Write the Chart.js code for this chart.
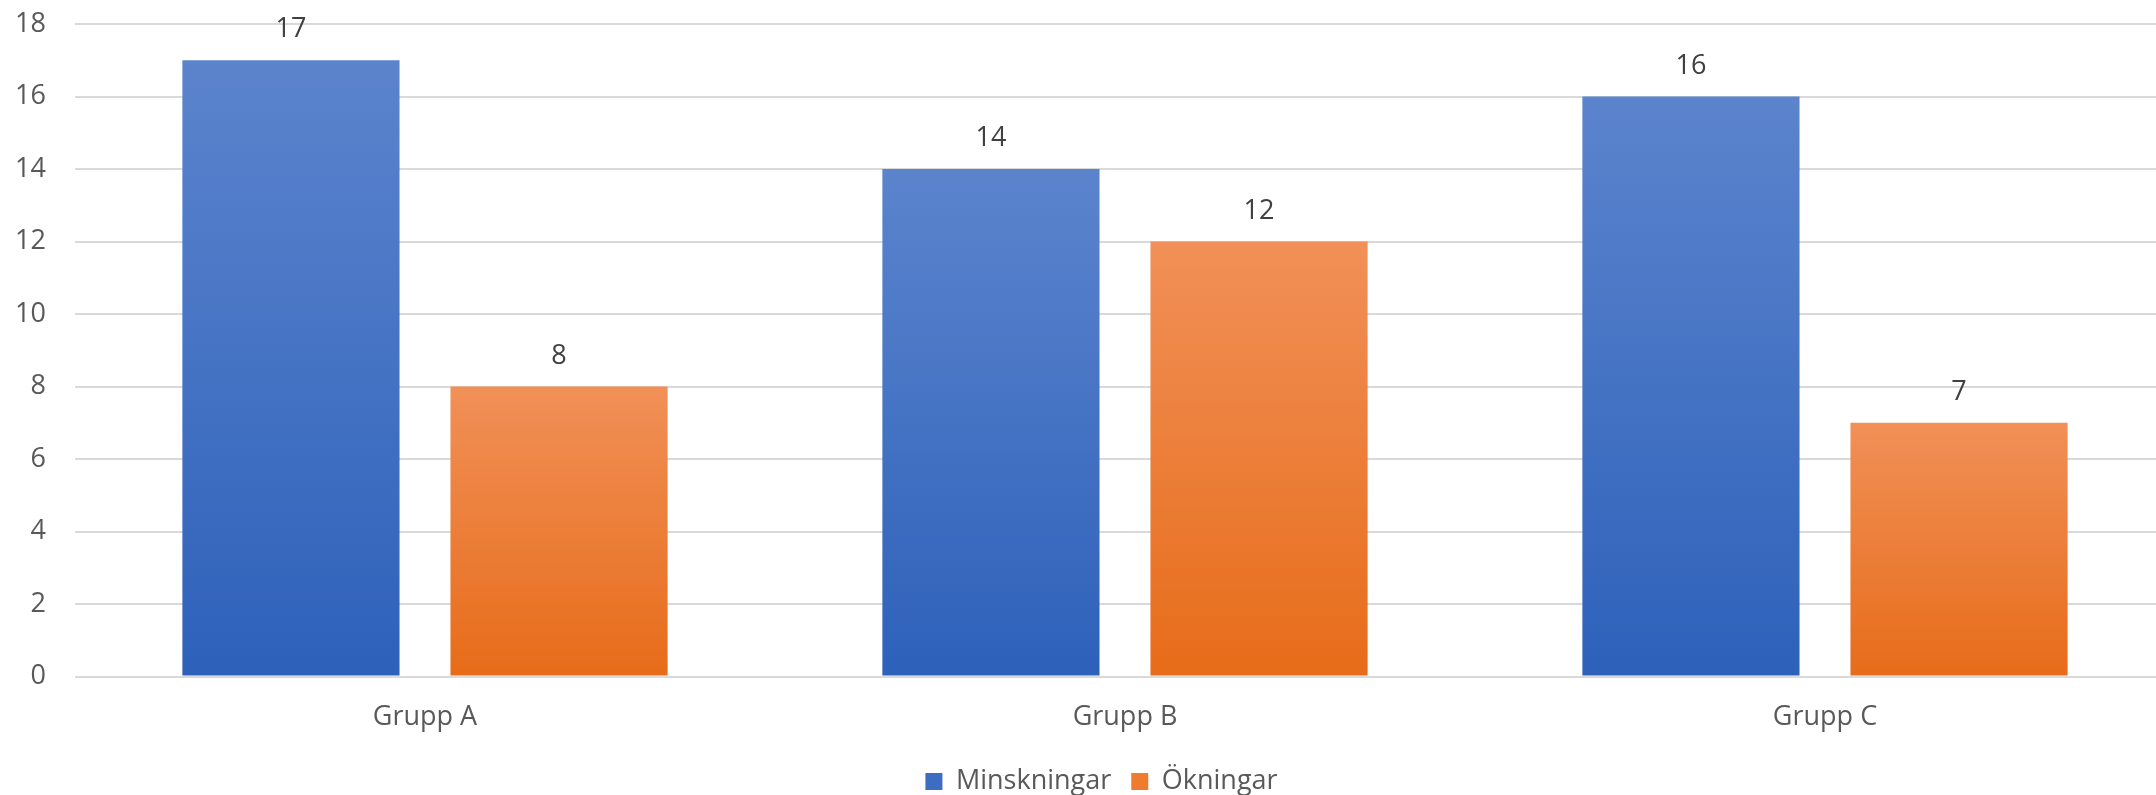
<!DOCTYPE html>
<html>
<head>
<meta charset="utf-8">
<script src="https://cdn.jsdelivr.net/npm/chart.js@4.4.1/dist/chart.umd.min.js"></script>
<style>
  html, body { margin: 0; padding: 0; background: #fff; overflow: hidden; }
  #wrap { position: absolute; left: 0; top: 0; width: 2203px; height: 795px; }
</style>
</head>
<body>
<div id="wrap"><canvas id="barChart" width="2203" height="795"></canvas></div>
<script>
const categories = ['Grupp A', 'Grupp B', 'Grupp C'];
const minskningar = [17, 14, 16];
const okningar = [8, 12, 7];
const seriesNames = ['Minskningar', 'Ökningar'];
const yMin = 0, yMax = 18, yStep = 2;

// office-like vertical gradient, one per bar
const barGradient = (top, bottom) => (ctx) => {
    const chart = ctx.chart;
    if (ctx.type !== 'data' || !chart.chartArea) return bottom;
    const y = chart.scales.y;
    const g = chart.ctx.createLinearGradient(0, y.getPixelForValue(ctx.raw), 0, y.getPixelForValue(0));
    g.addColorStop(0, top);
    g.addColorStop(1, bottom);
    return g;
};

const legendColors = ['#3D6DC3', '#EE7B2E'];

const valueLabels = {
    id: 'valueLabels',
    afterDatasetsDraw(chart) {
        const c = chart.ctx;
        c.save();
        c.font = '27px "Open Sans", sans-serif';
        c.fillStyle = '#404040';
        c.textAlign = 'center';
        c.textBaseline = 'alphabetic';
        chart.data.datasets.forEach((ds, i) => {
            chart.getDatasetMeta(i).data.forEach((bar, j) => {
                c.fillText(ds.data[j], bar.x, bar.y - 23);
            });
        });
        c.restore();
    }
};

// legend sits a bit right of the page centre in the original
const legendShift = {
    id: 'legendShift',
    afterLayout(chart) {
        chart.legend.left = 28;
    }
};

Chart.defaults.font.family = '"Open Sans", sans-serif';
Chart.defaults.font.size = 27;
Chart.defaults.color = '#595959';

const ctx = document.getElementById('barChart').getContext('2d');
const barChart = new Chart(ctx, {
    type: 'bar',
    data: {
        labels: categories,
        datasets: [{
            label: seriesNames[0],
            data: minskningar,
            backgroundColor: barGradient('#5C84CD', '#2D61BA'),
            categoryPercentage: 0.766,
            barPercentage: 0.81
        },
        {
            label: seriesNames[1],
            data: okningar,
            backgroundColor: barGradient('#F19058', '#E76C19'),
            categoryPercentage: 0.766,
            barPercentage: 0.81
        }]
    },
    plugins: [valueLabels, legendShift],
    options: {
        responsive: false,
        devicePixelRatio: 1,
        animation: false,
        layout: { padding: { top: 24, right: 28, bottom: -10, left: 0 } },
        plugins: {
            tooltip: { enabled: false },
            legend: {
                position: 'bottom',
                labels: {
                    boxWidth: 17,
                    boxHeight: 17,
                    padding: 20,
                    color: '#595959',
                    generateLabels: (chart) => chart.data.datasets.map((ds, i) => ({
                        text: ds.label,
                        fillStyle: legendColors[i],
                        strokeStyle: legendColors[i],
                        lineWidth: 0,
                        hidden: false,
                        datasetIndex: i,
                        fontColor: '#595959'
                    }))
                }
            }
        },
        scales: {
            x: {
                grid: { display: false },
                border: { display: false },
                ticks: { padding: 17, color: '#595959' },
                afterFit: (scale) => { scale.height = scale.height - 3; }
            },
            y: {
                min: yMin,
                max: yMax,
                ticks: { stepSize: yStep, padding: 29, color: '#595959' },
                grid: { color: '#D9D9D9', lineWidth: 2, drawTicks: false },
                border: { display: false },
                afterFit: (scale) => {
                    scale.width = 75;
                    scale.paddingTop = 0;
                    scale.paddingBottom = 0;
                }
            }
        }
    }
});
</script>
</body>
</html>
